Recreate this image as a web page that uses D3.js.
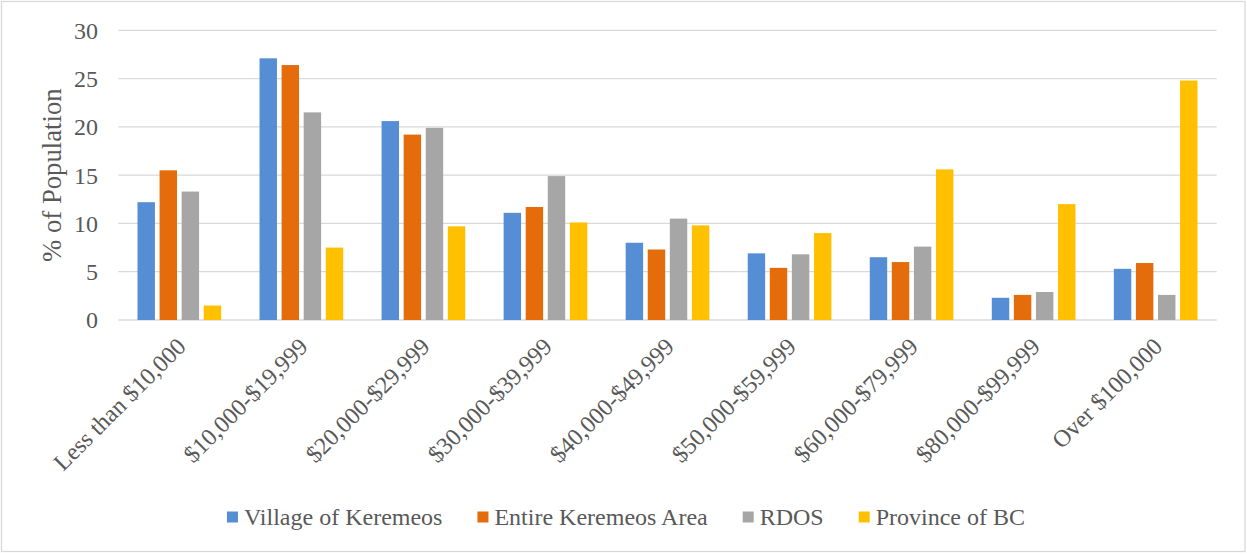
<!DOCTYPE html>
<html><head><meta charset="utf-8">
<script src="https://cdn.jsdelivr.net/npm/d3@7"></script>
<style>html,body{margin:0;padding:0;background:#fff}svg{display:block}</style>
</head><body>
<svg id="c" width="1247" height="554"></svg>
<script>
const categories = ["Less than $10,000","$10,000-$19,999","$20,000-$29,999","$30,000-$39,999","$40,000-$49,999","$50,000-$59,999","$60,000-$79,999","$80,000-$99,999","Over $100,000"];
const seriesNames = ["Village of Keremeos","Entire Keremeos Area","RDOS","Province of BC"];
const village = [12.2, 27.1, 20.6, 11.1, 8.0, 6.9, 6.5, 2.3, 5.3];
const entire  = [15.5, 26.4, 19.2, 11.7, 7.3, 5.4, 6.0, 2.6, 5.9];
const rdos    = [13.3, 21.5, 19.9, 14.9, 10.5, 6.8, 7.6, 2.9, 2.6];
const bc      = [1.5, 7.5, 9.7, 10.1, 9.8, 9.0, 15.6, 12.0, 24.8];
const yTicks  = [0, 5, 10, 15, 20, 25, 30];
const colors  = ["#558ED5", "#E46C0A", "#A6A6A6", "#FFC000"];
const seriesValues = [village, entire, rdos, bc];

(function(){
const svg = d3.select("#c");
const font = "'Liberation Serif','Times New Roman',serif";
const textColor = "#595959";

svg.append("rect").attr("x",1.5).attr("y",1.5).attr("width",1243.5).attr("height",550)
  .attr("fill","#fff").attr("stroke","#d9d9d9").attr("stroke-width",1.3);

const pL = 118.3, pR = 1216.7, pT = 30.3, pB = 320;
const x = d3.scaleBand().domain(categories).range([pL, pR]).paddingInner(0.3145).paddingOuter(0.3145/2);
const xs = d3.scaleBand().domain(seriesNames).range([0, x.bandwidth()]).paddingInner(0.21).paddingOuter(0);
const y = d3.scaleLinear().domain([0, 30]).range([pB, pT]);

svg.append("g").selectAll("line").data(yTicks).join("line")
  .attr("x1", pL).attr("x2", pR)
  .attr("y1", d => y(d)).attr("y2", d => y(d))
  .attr("stroke", "#d9d9d9").attr("stroke-width", 1.3);

svg.append("g").selectAll("text").data(yTicks).join("text")
  .attr("x", 98).attr("y", d => y(d)).attr("dy", "0.35em")
  .attr("text-anchor", "end").style("font-family", font).attr("font-size", 24)
  .attr("fill", textColor).text(d => d);

svg.append("text").attr("transform", `translate(61,${(pT+pB)/2}) rotate(-90)`)
  .attr("text-anchor","middle").style("font-family", font).attr("font-size", 26.7)
  .attr("fill", textColor).text("% of Population");

const groups = svg.append("g").selectAll("g").data(categories).join("g")
  .attr("transform", d => `translate(${x(d)},0)`);
groups.selectAll("rect").data((c, i) => seriesNames.map((s, j) => ({s, v: seriesValues[j][i], j})))
  .join("rect")
  .attr("x", d => xs(d.s)).attr("width", xs.bandwidth())
  .attr("y", d => y(d.v)).attr("height", d => y(0) - y(d.v))
  .attr("fill", d => colors[d.j]);

svg.append("g").selectAll("text").data(categories).join("text")
  .attr("transform", d => `translate(${x(d) + x.bandwidth()/2 + 2},${pB + 22}) rotate(-45)`)
  .attr("text-anchor", "end").attr("dy", "0.35em")
  .style("font-family", font).attr("font-size", 24).attr("fill", textColor).text(d => d);

const lg = svg.append("g");
const items = lg.selectAll("g").data(seriesNames).join("g");
items.append("rect").attr("width", 11).attr("height", 11).attr("y", -5.5).attr("fill", (d,i) => colors[i]);
items.append("text").attr("x", 17).attr("dy", "0.35em").style("font-family", font).attr("font-size", 24)
  .attr("fill", textColor).text(d => d);
let cx = 0;
const offs = [];
items.each(function(d){ offs.push(cx); cx += 17 + this.querySelector("text").getComputedTextLength() + 35; });
const totalW = cx - 35;
items.attr("transform", (d,i) => `translate(${offs[i]},0)`);
lg.attr("transform", `translate(${626 - totalW/2},517)`);
})();
</script>
</body></html>
